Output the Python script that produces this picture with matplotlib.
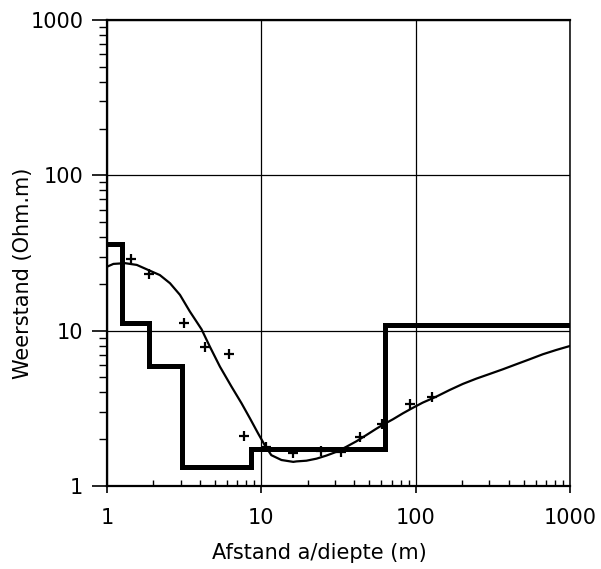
import matplotlib
matplotlib.use("Agg")
import matplotlib.pyplot as plt
import numpy as np

# layered model (thick step line)
layer_edges = [1.0, 1.26, 1.88, 3.04, 8.51, 63.0, 1000.0]
layer_rho = [36.0, 11.2, 5.9, 1.32, 1.73, 10.9]

# measured apparent resistivity (crosses)
meas_a = [1.44, 1.88, 3.15, 4.33, 6.19, 7.74, 10.7, 16.1, 24.4, 32.6, 43.4, 60.9, 91.4, 127]
meas_rho = [28.8, 23.1, 11.2, 7.8, 7.05, 2.1, 1.79, 1.64, 1.68, 1.66, 2.06, 2.51, 3.36, 3.76]

# model response curve
curve_a = [1.0, 1.10, 1.31, 1.56, 1.90, 2.20, 2.56, 2.97, 3.44, 3.81, 4.10, 4.64, 5.39,
           6.41, 7.44, 8.43, 9.53, 10.5, 11.6, 13.5, 16.1, 16.9, 19.6, 22.8, 26.4, 30.7, 35.6,
           41.3, 48.0, 55.7, 61.4, 71.3, 82.8, 96.1, 111, 136, 166, 202, 247, 301, 367,
           449, 547, 667, 814, 1000]
curve_rho = [25.8, 26.9, 27.2, 26.5, 24.3, 22.8, 20.2, 17.0, 13.3, 11.4, 10.2, 7.89, 5.87,
             4.36, 3.41, 2.73, 2.18, 1.84, 1.58, 1.47, 1.43, 1.44, 1.455, 1.50, 1.57, 1.66, 1.79,
             1.94, 2.13, 2.34, 2.48, 2.69, 2.94, 3.19, 3.44, 3.76, 4.15, 4.54, 4.91, 5.26, 5.64,
             6.08, 6.54, 7.05, 7.51, 7.97]

fig = plt.figure(figsize=(6.01, 5.69), dpi=100)
ax = fig.add_axes([107 / 601, 1 - 486 / 569, 463 / 601, 466 / 569])

ax.set_xscale("log")
ax.set_yscale("log")
ax.set_xlim(1, 1000)
ax.set_ylim(1, 1000)

ax.grid(True, which="major", color="black", linewidth=0.9)

step_y = layer_rho + [layer_rho[-1]]
ax.step(layer_edges, step_y, where="post", color="black", linewidth=3.6,
        solid_joinstyle="miter", zorder=3)
ax.plot(curve_a, curve_rho, color="black", linewidth=1.6, zorder=4)
ax.plot(meas_a, meas_rho, linestyle="none", marker="+", markersize=7,
        markeredgewidth=1.6, color="black", zorder=5)

ticks = [1, 10, 100, 1000]
ax.set_xticks(ticks)
ax.set_xticklabels([str(t) for t in ticks])
ax.set_yticks(ticks)
ax.set_yticklabels([str(t) for t in ticks])

ax.tick_params(axis="x", which="major", direction="out", length=5, width=1.2,
               labelsize=15, pad=11)
ax.tick_params(axis="x", which="minor", direction="in", length=4, width=1.0)
ax.tick_params(axis="y", which="major", direction="out", length=11, width=1.2,
               labelsize=15, pad=6)
ax.tick_params(axis="y", which="minor", direction="out", length=6, width=1.0)
ax.xaxis.set_minor_formatter(plt.NullFormatter())
ax.yaxis.set_minor_formatter(plt.NullFormatter())

for side in ["left", "bottom", "top"]:
    ax.spines[side].set_linewidth(1.6)
ax.spines["right"].set_linewidth(1.1)

ax.set_xlabel("Afstand a/diepte (m)", fontsize=15)
ax.set_ylabel("Weerstand (Ohm.m)", fontsize=15)
ax.xaxis.set_label_coords(0.458, -0.122)
ax.yaxis.set_label_coords(-0.16, 0.457)

fig.savefig("out.png", dpi=100)
